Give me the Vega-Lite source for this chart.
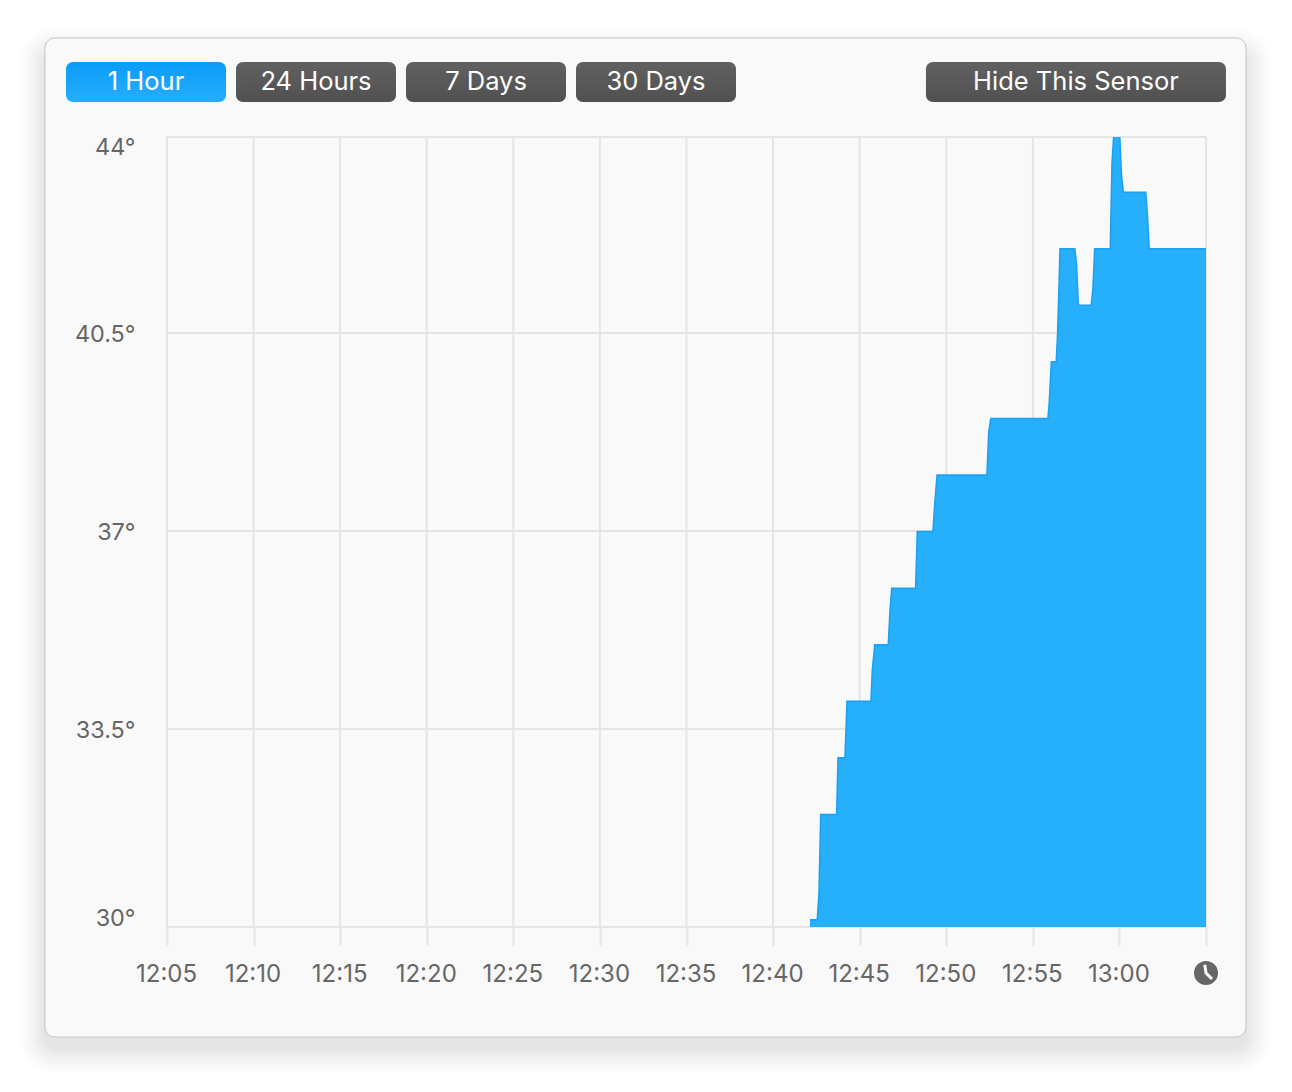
{"$schema":"https://vega.github.io/schema/vega-lite/v6.json","width":1039,"height":790,"autosize":"none","padding":{"left":167,"top":137,"right":86,"bottom":165},"background":"#ffffff","config":{"view":{"stroke":null},"font":"Inter"},"data":{"values":[{"item":"window"}]},"datasets":{"temps":[{"minute":762.13,"temp":30.14},{"minute":762.55,"temp":30.14},{"minute":762.65,"temp":30.6},{"minute":762.75,"temp":32},{"minute":763.67,"temp":32},{"minute":763.75,"temp":33},{"minute":764.15,"temp":33},{"minute":764.27,"temp":34},{"minute":765.65,"temp":34},{"minute":765.73,"temp":34.55},{"minute":765.87,"temp":35},{"minute":766.65,"temp":35},{"minute":766.75,"temp":35.6},{"minute":766.85,"temp":36},{"minute":768.23,"temp":36},{"minute":768.33,"temp":37},{"minute":769.23,"temp":37},{"minute":769.35,"temp":37.55},{"minute":769.47,"temp":38},{"minute":772.35,"temp":38},{"minute":772.45,"temp":38.75},{"minute":772.57,"temp":39},{"minute":775.87,"temp":39},{"minute":775.95,"temp":39.3},{"minute":776.07,"temp":40},{"minute":776.35,"temp":40},{"minute":776.43,"temp":40.5},{"minute":776.57,"temp":42},{"minute":777.42,"temp":42},{"minute":777.52,"temp":41.75},{"minute":777.63,"temp":41},{"minute":778.37,"temp":41},{"minute":778.47,"temp":41.3},{"minute":778.57,"temp":42},{"minute":779.47,"temp":42},{"minute":779.57,"temp":43.5},{"minute":779.67,"temp":44},{"minute":780.02,"temp":44},{"minute":780.12,"temp":43.3},{"minute":780.23,"temp":43},{"minute":781.52,"temp":43},{"minute":781.62,"temp":42.6},{"minute":781.72,"temp":42},{"minute":785,"temp":42}],"xticks":[{"minute":725},{"minute":730},{"minute":735},{"minute":740},{"minute":745},{"minute":750},{"minute":755},{"minute":760},{"minute":765},{"minute":770},{"minute":775},{"minute":780},{"minute":785}],"yticks":[{"deg":30},{"deg":33.5},{"deg":37},{"deg":40.5},{"deg":43.965}],"buttons":[{"label":"1 Hour","state":"on"},{"label":"24 Hours","state":"off"},{"label":"7 Days","state":"off"},{"label":"30 Days","state":"off"}]},"resolve":{"scale":{"x":"independent","y":"independent"},"axis":{"x":"independent","y":"independent"}},"layer":[
{"mark":{"type":"rect","width":1253,"height":1047,"cornerRadius":36,"fill":"#000000","opacity":0.006},"encoding":{"x":{"datum":27.63,"type":"quantitative","axis":null,"scale":{"domain":[0,60],"nice":false,"zero":false}},"y":{"datum":36.66,"type":"quantitative","axis":null,"scale":{"domain":[30,43.965],"nice":false,"zero":false}}}},
{"mark":{"type":"rect","width":1247,"height":1041,"cornerRadius":33,"fill":"#000000","opacity":0.008},"encoding":{"x":{"datum":27.63,"type":"quantitative","axis":null,"scale":{"domain":[0,60],"nice":false,"zero":false}},"y":{"datum":36.66,"type":"quantitative","axis":null,"scale":{"domain":[30,43.965],"nice":false,"zero":false}}}},
{"mark":{"type":"rect","width":1241,"height":1035,"cornerRadius":30,"fill":"#000000","opacity":0.009},"encoding":{"x":{"datum":27.63,"type":"quantitative","axis":null,"scale":{"domain":[0,60],"nice":false,"zero":false}},"y":{"datum":36.66,"type":"quantitative","axis":null,"scale":{"domain":[30,43.965],"nice":false,"zero":false}}}},
{"mark":{"type":"rect","width":1235,"height":1029,"cornerRadius":27,"fill":"#000000","opacity":0.01},"encoding":{"x":{"datum":27.63,"type":"quantitative","axis":null,"scale":{"domain":[0,60],"nice":false,"zero":false}},"y":{"datum":36.66,"type":"quantitative","axis":null,"scale":{"domain":[30,43.965],"nice":false,"zero":false}}}},
{"mark":{"type":"rect","width":1229,"height":1023,"cornerRadius":24,"fill":"#000000","opacity":0.011},"encoding":{"x":{"datum":27.63,"type":"quantitative","axis":null,"scale":{"domain":[0,60],"nice":false,"zero":false}},"y":{"datum":36.66,"type":"quantitative","axis":null,"scale":{"domain":[30,43.965],"nice":false,"zero":false}}}},
{"mark":{"type":"rect","width":1223,"height":1017,"cornerRadius":21,"fill":"#000000","opacity":0.012},"encoding":{"x":{"datum":27.63,"type":"quantitative","axis":null,"scale":{"domain":[0,60],"nice":false,"zero":false}},"y":{"datum":36.66,"type":"quantitative","axis":null,"scale":{"domain":[30,43.965],"nice":false,"zero":false}}}},
{"mark":{"type":"rect","width":1217,"height":1011,"cornerRadius":18,"fill":"#000000","opacity":0.013},"encoding":{"x":{"datum":27.63,"type":"quantitative","axis":null,"scale":{"domain":[0,60],"nice":false,"zero":false}},"y":{"datum":36.66,"type":"quantitative","axis":null,"scale":{"domain":[30,43.965],"nice":false,"zero":false}}}},
{"mark":{"type":"rect","width":1211,"height":1005,"cornerRadius":15,"fill":"#000000","opacity":0.014},"encoding":{"x":{"datum":27.63,"type":"quantitative","axis":null,"scale":{"domain":[0,60],"nice":false,"zero":false}},"y":{"datum":36.66,"type":"quantitative","axis":null,"scale":{"domain":[30,43.965],"nice":false,"zero":false}}}},
{"mark":{"type":"rect","width":1205,"height":999,"cornerRadius":12,"fill":"#000000","opacity":0.016},"encoding":{"x":{"datum":27.63,"type":"quantitative","axis":null,"scale":{"domain":[0,60],"nice":false,"zero":false}},"y":{"datum":36.66,"type":"quantitative","axis":null,"scale":{"domain":[30,43.965],"nice":false,"zero":false}}}},
{"mark":{"type":"rect","width":1201,"height":999,"cornerRadius":10,"fill":"#f9f9f9","stroke":"#c4c4c4","strokeWidth":1},"encoding":{"x":{"datum":27.63,"type":"quantitative","axis":null,"scale":{"domain":[0,60],"nice":false,"zero":false}},"y":{"datum":36.885,"type":"quantitative","axis":null,"scale":{"domain":[30,43.965],"nice":false,"zero":false}}}},
{"data":{"name":"buttons"},"transform":[{"filter":"datum.state === 'off'"}],"mark":{"type":"rect","width":160,"height":40,"cornerRadius":7,"fill":{"x1":0,"y1":0,"x2":0,"y2":1,"gradient":"linear","stops":[{"offset":0,"color":"#616161"},{"offset":1,"color":"#505050"}]}},"encoding":{"x":{"field":"label","type":"nominal","axis":null,"scale":{"type":"point","domain":["1 Hour","24 Hours","7 Days","30 Days"],"range":[-21,489],"padding":0}},"y":{"datum":44.937,"type":"quantitative","axis":null,"scale":{"domain":[30,43.965],"nice":false,"zero":false}}}},
{"data":{"name":"buttons"},"transform":[{"filter":"datum.state === 'on'"}],"mark":{"type":"rect","width":160,"height":40,"cornerRadius":7,"fill":{"x1":0,"y1":0,"x2":0,"y2":1,"gradient":"linear","stops":[{"offset":0,"color":"#0a9cfa"},{"offset":1,"color":"#26aefc"}]}},"encoding":{"x":{"field":"label","type":"nominal","axis":null,"scale":{"type":"point","domain":["1 Hour","24 Hours","7 Days","30 Days"],"range":[-21,489],"padding":0}},"y":{"datum":44.937,"type":"quantitative","axis":null,"scale":{"domain":[30,43.965],"nice":false,"zero":false}}}},
{"data":{"name":"buttons"},"mark":{"type":"text","fontSize":25.5,"font":"Inter","color":"#ffffff","baseline":"middle","align":"center"},"encoding":{"x":{"field":"label","type":"nominal","axis":null,"scale":{"type":"point","domain":["1 Hour","24 Hours","7 Days","30 Days"],"range":[-21,489],"padding":0}},"y":{"datum":44.94,"type":"quantitative","axis":null,"scale":{"domain":[30,43.965],"nice":false,"zero":false}},"text":{"field":"label"}}},
{"mark":{"type":"rect","width":300,"height":40,"cornerRadius":7,"fill":{"x1":0,"y1":0,"x2":0,"y2":1,"gradient":"linear","stops":[{"offset":0,"color":"#616161"},{"offset":1,"color":"#505050"}]}},"encoding":{"x":{"datum":52.49,"type":"quantitative","axis":null,"scale":{"domain":[0,60],"nice":false,"zero":false}},"y":{"datum":44.937,"type":"quantitative","axis":null,"scale":{"domain":[30,43.965],"nice":false,"zero":false}}}},
{"mark":{"type":"text","fontSize":25.5,"font":"Inter","color":"#ffffff","baseline":"middle","align":"center","text":"Hide This Sensor"},"encoding":{"x":{"datum":52.49,"type":"quantitative","axis":null,"scale":{"domain":[0,60],"nice":false,"zero":false}},"y":{"datum":44.94,"type":"quantitative","axis":null,"scale":{"domain":[30,43.965],"nice":false,"zero":false}}}},
{"data":{"name":"yticks"},"mark":{"type":"rule","color":"#e4e4e4","strokeWidth":2},"encoding":{"y":{"field":"deg","type":"quantitative","scale":{"domain":[30,43.965],"nice":false,"zero":false},"axis":{"title":null,"values":[30,33.5,37,40.5,43.965],"zindex":1,"domain":false,"ticks":false,"grid":false,"labelPadding":32,"labelFontSize":23.4,"labelColor":"#666666","labelFont":"Inter","labelExpr":"datum.value > 43 ? '44°' : datum.value + '°'","labelOffset":{"condition":[{"test":"datum.value > 43","value":10},{"test":"datum.value < 31","value":-9}],"value":1},"labelOverlap":false,"labelBound":false}}}},
{"data":{"name":"xticks"},"mark":{"type":"rule","color":"#e4e4e4","strokeWidth":2},"encoding":{"x":{"field":"minute","type":"quantitative","scale":{"domain":[725,785],"nice":false,"zero":false},"axis":{"title":null,"values":[725,730,735,740,745,750,755,760,765,770,775,780,785],"zindex":1,"domain":false,"grid":false,"ticks":true,"tickSize":19,"tickWidth":2,"tickColor":"#e4e4e4","labelPadding":28,"labelOffset":-1,"labelBaseline":"middle","labelFontSize":24,"labelColor":"#666666","labelFont":"Inter","labelFlush":false,"labelOverlap":false,"labelBound":false,"labelExpr":"datum.value === 785 ? '' : floor(datum.value / 60) + ':' + (datum.value % 60 < 10 ? '0' : '') + (datum.value % 60)"}}}},
{"data":{"name":"temps"},"mark":{"type":"area","clip":true,"color":"#26b0fb","interpolate":"linear"},"encoding":{"x":{"field":"minute","type":"quantitative","axis":null,"scale":{"domain":[725,785],"nice":false,"zero":false}},"y":{"field":"temp","type":"quantitative","axis":null,"scale":{"domain":[30.01,43.975],"nice":false,"zero":false}},"y2":{"datum":29.995}}},
{"data":{"name":"temps"},"mark":{"type":"line","clip":true,"color":"#1c9ff0","strokeWidth":1.5,"interpolate":"linear"},"encoding":{"x":{"field":"minute","type":"quantitative","axis":null,"scale":{"domain":[725,785],"nice":false,"zero":false}},"y":{"field":"temp","type":"quantitative","axis":null,"scale":{"domain":[30.01,43.975],"nice":false,"zero":false}}}},
{"mark":{"type":"point","shape":"circle","size":576,"filled":true,"color":"#666666","opacity":1},"encoding":{"x":{"datum":60,"type":"quantitative","axis":null,"scale":{"domain":[0,60],"nice":false,"zero":false}},"y":{"datum":29.187,"type":"quantitative","axis":null,"scale":{"domain":[30,43.965],"nice":false,"zero":false}}}},
{"mark":{"type":"point","shape":"M-0.1,-0.68L0,0L0.5,0.5","size":576,"filled":false,"stroke":"#f9f9f9","strokeWidth":3,"opacity":1},"encoding":{"x":{"datum":60,"type":"quantitative","axis":null,"scale":{"domain":[0,60],"nice":false,"zero":false}},"y":{"datum":29.187,"type":"quantitative","axis":null,"scale":{"domain":[30,43.965],"nice":false,"zero":false}}}}
]}
